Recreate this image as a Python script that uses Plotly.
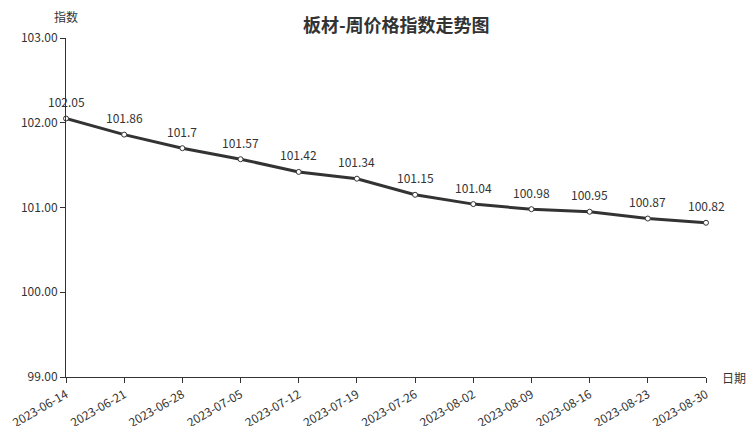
import plotly.graph_objects as go

dates = ["2023-06-14", "2023-06-21", "2023-06-28", "2023-07-05", "2023-07-12", "2023-07-19",
         "2023-07-26", "2023-08-02", "2023-08-09", "2023-08-16", "2023-08-23", "2023-08-30"]
values = [102.05, 101.86, 101.7, 101.57, 101.42, 101.34, 101.15, 101.04, 100.98, 100.95, 100.87, 100.82]
labels = ["102.05", "101.86", "101.7", "101.57", "101.42", "101.34", "101.15", "101.04", "100.98", "100.95", "100.87", "100.82"]
yticks = [99, 100, 101, 102, 103]

FONT = "Noto Sans CJK SC"
C = "#333333"

fig = go.Figure()
fig.add_trace(go.Scatter(
    x=dates, y=values, mode="lines+markers",
    line=dict(color=C, width=3),
    marker=dict(size=5, color="white", line=dict(color=C, width=1)),
    cliponaxis=False, showlegend=False,
))

annotations = [
    dict(x=d, y=v, text=t, xref="x", yref="y", showarrow=False, yshift=17,
         xanchor="center", yanchor="middle", font=dict(family=FONT, size=12, color=C))
    for d, v, t in zip(dates, values, labels)
]
annotations += [
    dict(text="指数", x=0, xref="paper", y=1, yref="paper", xanchor="center", yanchor="middle",
         yshift=22, showarrow=False, font=dict(family=FONT, size=12, color=C)),
    dict(text="日期", x=1, xref="paper", y=0, yref="paper", xanchor="left", yanchor="middle",
         xshift=14, showarrow=False, font=dict(family=FONT, size=12, color=C)),
]

fig.update_layout(
    width=752, height=426,
    margin=dict(l=66, r=46, t=38, b=49, autoexpand=False),
    paper_bgcolor="white", plot_bgcolor="white",
    font=dict(family=FONT, size=12, color=C),
    title=dict(text="<b>板材-周价格指数走势图</b>", x=0.527, xanchor="center",
               y=1 - 26 / 426, yanchor="middle", font=dict(family=FONT, size=18, color=C)),
    xaxis=dict(type="category", range=[0, len(dates) - 1], showgrid=False, automargin=False,
               showline=True, linecolor=C, linewidth=1, ticks="outside", ticklen=5, tickcolor=C,
               tickangle=-30, tickfont=dict(family=FONT, size=12, color=C), zeroline=False),
    yaxis=dict(range=[99, 103], tickvals=yticks, ticktext=[f"{v:.2f}" for v in yticks],
               automargin=False,
               showgrid=False, showline=True, linecolor=C, linewidth=1, ticks="outside",
               ticklen=5, tickcolor=C, tickfont=dict(family=FONT, size=12, color=C), zeroline=False),
    annotations=annotations,
)

fig.write_html("out.html", config={"displayModeBar": False},
               post_script="document.body.style.margin='0';")
